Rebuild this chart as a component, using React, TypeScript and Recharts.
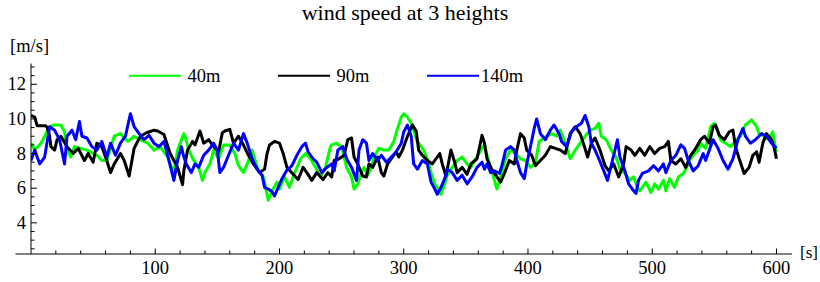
import { LineChart, Line, XAxis, YAxis, Legend, ReferenceLine } from "recharts";

type Pt = [number, number];

// [time s, speed m/s]
const speed40: Pt[] = [
  [0, 8.6], [3, 8.2], [8, 8.6], [11, 9.0], [15, 9.55], [19, 9.65], [24, 9.65], [27, 9.25], [29, 8.2],
  [32, 7.8], [35, 8.4], [40, 8.3], [45, 8.2], [53, 7.9], [57, 7.6], [61, 7.6], [67, 9.0], [72, 9.15],
  [78, 8.7], [83, 9.0], [88, 8.8], [94, 8.6], [99, 8.2], [104, 8.4], [110, 7.8], [112, 7.4], [115, 6.9],
  [118, 8.2], [123, 9.15], [124, 9.0], [127, 8.2], [131, 7.6], [135, 7.2], [138, 6.45], [140, 6.9],
  [144, 7.4], [147, 8.2], [151, 7.7], [155, 8.5], [160, 8.5], [164, 8.0], [167, 7.3], [171, 6.9],
  [174, 7.4], [178, 8.2], [180, 7.7], [183, 7.0], [187, 6.65], [191, 5.3], [194, 5.85], [198, 6.35],
  [200, 5.95], [204, 6.65], [208, 6.05], [212, 6.85], [217, 7.7], [221, 8.0], [225, 7.7], [229, 7.2],
  [233, 6.65], [237, 7.2], [241, 8.4], [242, 8.5], [246, 8.6], [250, 8.4], [254, 7.2], [258, 6.65],
  [260, 5.95], [263, 6.25], [266, 6.9], [268, 7.2], [271, 6.75], [274, 7.2], [276, 7.8], [280, 8.3],
  [284, 8.2], [288, 8.2], [292, 8.7], [295, 9.45], [298, 10.1], [300, 10.3], [303, 10.1], [306, 9.75],
  [308, 9.35], [311, 8.7], [314, 8.4], [316, 8.2], [319, 7.7], [322, 6.9], [325, 6.25], [327, 6.05],
  [330, 5.65], [333, 6.25], [335, 6.75], [339, 7.2], [343, 7.6], [347, 7.8], [351, 7.4], [354, 7.2],
  [358, 7.7], [362, 8.2], [365, 8.5], [367, 7.9], [370, 7.2], [373, 6.45], [375, 5.95], [378, 6.65],
  [382, 7.7], [386, 8.2], [390, 8.0], [394, 7.7], [398, 7.6], [402, 7.2], [406, 7.5], [409, 8.7],
  [411, 8.8], [415, 9.0], [419, 9.15], [423, 9.0], [426, 9.35], [430, 8.6], [434, 7.7], [438, 8.2],
  [442, 8.6], [446, 9.0], [450, 9.35], [454, 9.45], [457, 9.75], [459, 9.0], [463, 8.8], [467, 8.2],
  [471, 7.8], [474, 7.1], [478, 6.85], [482, 6.45], [485, 6.65], [488, 6.05], [490, 5.85], [495, 6.35],
  [499, 5.75], [502, 6.25], [505, 5.95], [509, 6.45], [511, 5.85], [514, 6.55], [518, 6.05], [521, 6.65],
  [525, 6.85], [527, 7.1], [530, 7.6], [533, 7.9], [537, 8.2], [539, 8.6], [543, 8.3], [547, 9.55],
  [550, 9.75], [553, 9.25], [555, 8.8], [559, 8.6], [563, 8.4], [567, 8.7], [571, 9.0], [575, 9.65],
  [580, 9.95], [584, 9.55], [586, 9.15], [590, 9.0], [594, 8.8], [597, 9.25], [599, 8.4], [600, 8.1],
];

const speed90: Pt[] = [
  [0, 10.2], [3, 10.1], [5, 9.6], [12, 9.6], [13, 9.5], [15, 9.0], [16, 8.4], [19, 8.2], [21, 8.8],
  [24, 9.0], [29, 8.4], [34, 8.0], [38, 8.3], [43, 7.6], [46, 8.0], [50, 7.5], [53, 8.6], [57, 8.4],
  [61, 7.6], [64, 6.9], [67, 7.4], [72, 8.0], [75, 7.6], [79, 6.7], [83, 8.3], [88, 9.0], [93, 9.2],
  [99, 9.35], [102, 9.3], [107, 9.1], [112, 8.0], [115, 7.6], [118, 7.2], [122, 6.2], [123, 7.0],
  [126, 8.2], [130, 8.7], [132, 8.5], [136, 9.3], [139, 8.6], [143, 8.8], [147, 8.4], [151, 8.1],
  [154, 9.2], [156, 9.3], [160, 9.4], [163, 8.6], [167, 9.0], [171, 8.5], [175, 7.9], [179, 7.4],
  [184, 6.9], [188, 7.1], [190, 8.0], [192, 8.5], [196, 8.7], [200, 8.6], [203, 8.0], [206, 7.2],
  [211, 6.8], [215, 6.5], [219, 7.2], [222, 6.9], [226, 6.45], [230, 6.9], [235, 6.5], [239, 6.9],
  [242, 6.65], [244, 7.6], [248, 7.7], [252, 7.9], [255, 8.8], [258, 8.9], [260, 7.8], [263, 7.4],
  [267, 6.7], [270, 6.65], [272, 7.4], [275, 7.2], [279, 7.8], [282, 6.9], [284, 6.7], [287, 7.4],
  [290, 7.7], [294, 8.1], [296, 7.8], [299, 8.2], [303, 9.0], [307, 9.65], [310, 9.3], [312, 8.2],
  [315, 7.9], [319, 7.6], [323, 7.4], [326, 7.7], [329, 8.0], [331, 7.4], [334, 6.7], [338, 8.2],
  [341, 7.5], [343, 6.9], [347, 7.2], [351, 6.8], [354, 7.4], [359, 7.7], [363, 9.05], [365, 8.6],
  [367, 7.7], [370, 7.2], [374, 6.75], [378, 6.35], [381, 6.85], [385, 7.6], [389, 7.4], [391, 8.2],
  [394, 9.15], [397, 8.9], [399, 8.2], [403, 7.9], [406, 7.3], [410, 7.6], [414, 7.9], [418, 8.4],
  [422, 8.3], [426, 8.2], [430, 8.0], [434, 9.15], [438, 9.55], [442, 9.15], [445, 8.5], [448, 7.8],
  [451, 8.6], [454, 8.9], [458, 8.2], [462, 7.3], [465, 7.0], [469, 7.4], [473, 6.65], [477, 7.4],
  [479, 8.4], [483, 8.2], [486, 7.9], [490, 8.3], [494, 7.9], [498, 8.4], [502, 8.0], [506, 8.3],
  [510, 8.4], [513, 8.7], [515, 7.6], [519, 7.4], [523, 7.7], [527, 7.2], [531, 7.9], [535, 8.3],
  [539, 8.8], [542, 9.0], [546, 8.6], [549, 9.55], [551, 9.65], [554, 9.05], [558, 8.8], [562, 9.25],
  [565, 9.35], [567, 8.4], [570, 7.7], [574, 6.85], [578, 7.2], [581, 7.9], [584, 8.1], [586, 7.5],
  [589, 8.6], [592, 9.15], [596, 8.8], [598, 8.4], [600, 7.7],
];

const speed140: Pt[] = [
  [0, 7.6], [3, 8.2], [7, 7.4], [11, 7.8], [15, 9.55], [19, 9.35], [23, 8.8], [27, 7.4], [29, 9.0],
  [33, 9.35], [36, 8.8], [39, 9.85], [41, 9.0], [45, 8.9], [49, 8.4], [53, 8.2], [57, 8.7], [61, 7.8],
  [64, 8.6], [68, 7.9], [72, 8.6], [76, 9.0], [80, 10.3], [83, 9.55], [87, 9.15], [91, 8.8], [95, 9.05],
  [99, 8.6], [103, 8.4], [107, 8.7], [111, 7.6], [115, 6.45], [118, 7.6], [121, 8.4], [123, 7.8],
  [125, 7.4], [129, 6.9], [132, 7.4], [135, 7.2], [139, 7.9], [143, 8.2], [147, 8.6], [150, 8.2],
  [152, 6.9], [155, 7.2], [159, 7.9], [163, 8.6], [167, 8.2], [171, 9.15], [174, 8.6], [178, 7.7],
  [182, 7.1], [186, 6.75], [188, 6.05], [191, 5.95], [194, 5.8], [196, 5.55], [199, 6.05], [202, 6.55],
  [206, 7.05], [210, 7.3], [214, 7.9], [218, 8.4], [221, 8.6], [223, 8.1], [227, 7.7], [230, 7.5],
  [234, 6.9], [238, 7.2], [242, 7.4], [244, 7.0], [247, 8.2], [251, 8.4], [254, 7.7], [258, 7.2],
  [262, 6.45], [264, 8.2], [267, 8.8], [270, 8.6], [272, 7.6], [275, 8.0], [279, 7.6], [282, 7.9],
  [286, 7.5], [290, 7.8], [294, 8.1], [298, 8.6], [300, 9.25], [303, 9.65], [306, 9.0], [308, 7.4],
  [311, 7.1], [315, 7.6], [319, 7.4], [322, 6.35], [325, 5.95], [327, 5.65], [330, 6.05], [333, 6.55],
  [335, 7.1], [339, 6.9], [343, 6.45], [347, 6.75], [351, 6.25], [355, 6.65], [359, 7.2], [363, 7.5],
  [365, 7.1], [367, 7.4], [370, 6.9], [373, 7.0], [377, 6.85], [379, 7.3], [382, 8.2], [386, 8.4],
  [389, 8.2], [391, 7.6], [394, 6.9], [397, 6.55], [399, 7.4], [402, 8.4], [405, 9.45], [407, 10.0],
  [410, 9.15], [414, 8.8], [418, 9.35], [421, 9.65], [425, 9.15], [427, 8.7], [431, 8.4], [435, 9.25],
  [439, 9.55], [443, 9.75], [446, 10.2], [449, 9.55], [451, 8.6], [454, 8.2], [457, 7.7], [461, 7.0],
  [464, 6.45], [468, 7.6], [472, 8.8], [474, 7.8], [478, 7.0], [481, 6.25], [485, 5.85], [487, 5.7],
  [489, 6.45], [492, 6.85], [497, 7.0], [501, 7.3], [505, 7.0], [509, 7.4], [511, 6.9], [515, 7.6],
  [519, 7.9], [523, 8.5], [526, 8.3], [529, 7.6], [533, 7.0], [537, 7.3], [541, 8.0], [543, 7.6],
  [546, 8.2], [549, 8.8], [553, 8.3], [557, 7.6], [561, 7.1], [565, 7.7], [569, 8.8], [573, 9.45],
  [575, 9.0], [579, 8.6], [583, 8.8], [588, 9.15], [592, 9.0], [596, 8.6], [600, 8.3],
];

const seriesNames = ["40m", "90m", "140m"];
const seriesColors = ["#00ff00", "#000000", "#0000ff"];

const xTicks = [
  20, 40, 60, 80, 100, 120, 140, 160, 180, 200, 220, 240, 260, 280, 300,
  320, 340, 360, 380, 400, 420, 440, 460, 480, 500, 520, 540, 560, 580, 600,
];
const xTickLabels = [100, 200, 300, 400, 500, 600];
const yTicks = [
  2.5, 3, 3.5, 4, 4.5, 5, 5.5, 6, 6.5, 7, 7.5, 8, 8.5, 9, 9.5, 10, 10.5, 11, 11.5, 12, 12.5, 13,
];
const yTickLabels = [4, 6, 8, 10, 12];

const FONT = '"Liberation Serif", "Times New Roman", serif';

const toRows = (pts: Pt[]) => pts.map(([t, v]) => ({ t, v }));
const rows = [speed40, speed90, speed140].map(toRows);

const XTick = ({ x, y, payload }: any) => {
  const major = xTickLabels.includes(payload.value);
  return (
    <g>
      <line x1={x} x2={x} y1={y} y2={y - (major ? 5.5 : 3.5)} stroke="#000" strokeWidth={1} />
      {major && (
        <text x={x} y={y + 20} textAnchor="middle" fontSize={18.5} fontFamily={FONT} fill="#000">
          {payload.value}
        </text>
      )}
    </g>
  );
};

const YTick = ({ x, y, payload }: any) => {
  const major = yTickLabels.includes(payload.value);
  return (
    <g>
      <line x1={x} x2={x + (major ? 6 : 3.5)} y1={y} y2={y} stroke="#000" strokeWidth={1} />
      {major && (
        <text x={x - 5} y={y + 6} textAnchor="end" fontSize={18.5} fontFamily={FONT} fill="#000">
          {payload.value}
        </text>
      )}
    </g>
  );
};

const renderLegend = () => (
  <svg width={820} height={90}>
    {seriesNames.map((name, i) => {
      const x0 = 129 + 149 * i;
      return (
        <g key={name}>
          <line x1={x0} x2={x0 + 52} y1={75.7} y2={75.7} stroke={seriesColors[i]} strokeWidth={2} />
          <text x={x0 + 75} y={81.5} textAnchor="middle" fontSize={18.5} fontFamily={FONT} fill="#000">
            {name}
          </text>
        </g>
      );
    })}
  </svg>
);

export default function App() {
  return (
    <div style={{ position: "absolute", left: 0, top: 0, width: 820, height: 282, background: "#fff" }}>
      <LineChart width={820} height={282} margin={{ top: 63.5, right: 28, bottom: 0, left: 0 }}>
        <XAxis
          type="number"
          dataKey="t"
          domain={[0, 612.5]}
          allowDataOverflow
          ticks={xTicks}
          interval={0}
          tickSize={0}
          tickMargin={0}
          tick={<XTick />}
          height={28}
          axisLine={{ stroke: "#000", strokeWidth: 1 }}
          tickLine={false}
        />
        <YAxis
          type="number"
          dataKey="v"
          domain={[2.2, 13.2]}
          allowDataOverflow
          ticks={yTicks}
          interval={0}
          tickSize={0}
          tickMargin={0}
          tick={<YTick />}
          width={31}
          axisLine={{ stroke: "#000", strokeWidth: 1 }}
          tickLine={false}
        />
        <ReferenceLine
          segment={[{ x: -12.5, y: 2.2 }, { x: 0, y: 2.2 }]}
          ifOverflow="visible"
          stroke="#000"
          strokeWidth={1}
        />
        <Legend
          layout="horizontal"
          verticalAlign="middle"
          align="center"
          content={renderLegend}
          wrapperStyle={{ top: 0, left: 0, width: 820, height: 90 }}
        />
        {rows.map((data, i) => (
          <Line
            key={seriesNames[i]}
            data={data}
            dataKey="v"
            name={seriesNames[i]}
            type="linear"
            stroke={seriesColors[i]}
            strokeWidth={3}
            strokeLinejoin="round"
            dot={false}
            activeDot={false}
            isAnimationActive={false}
          />
        ))}
      </LineChart>
      <svg
        width={820}
        height={282}
        style={{ position: "absolute", left: 0, top: 0, pointerEvents: "none" }}
      >
        <text x={405} y={20} textAnchor="middle" fontSize={22} fontFamily={FONT} fill="#000">
          wind speed at 3 heights
        </text>
        <text x={10} y={52} fontSize={18.5} fontFamily={FONT} fill="#000">
          [m/s]
        </text>
        <text x={800} y={258} fontSize={17} fontFamily={FONT} fill="#000">
          [s]
        </text>
      </svg>
    </div>
  );
}
